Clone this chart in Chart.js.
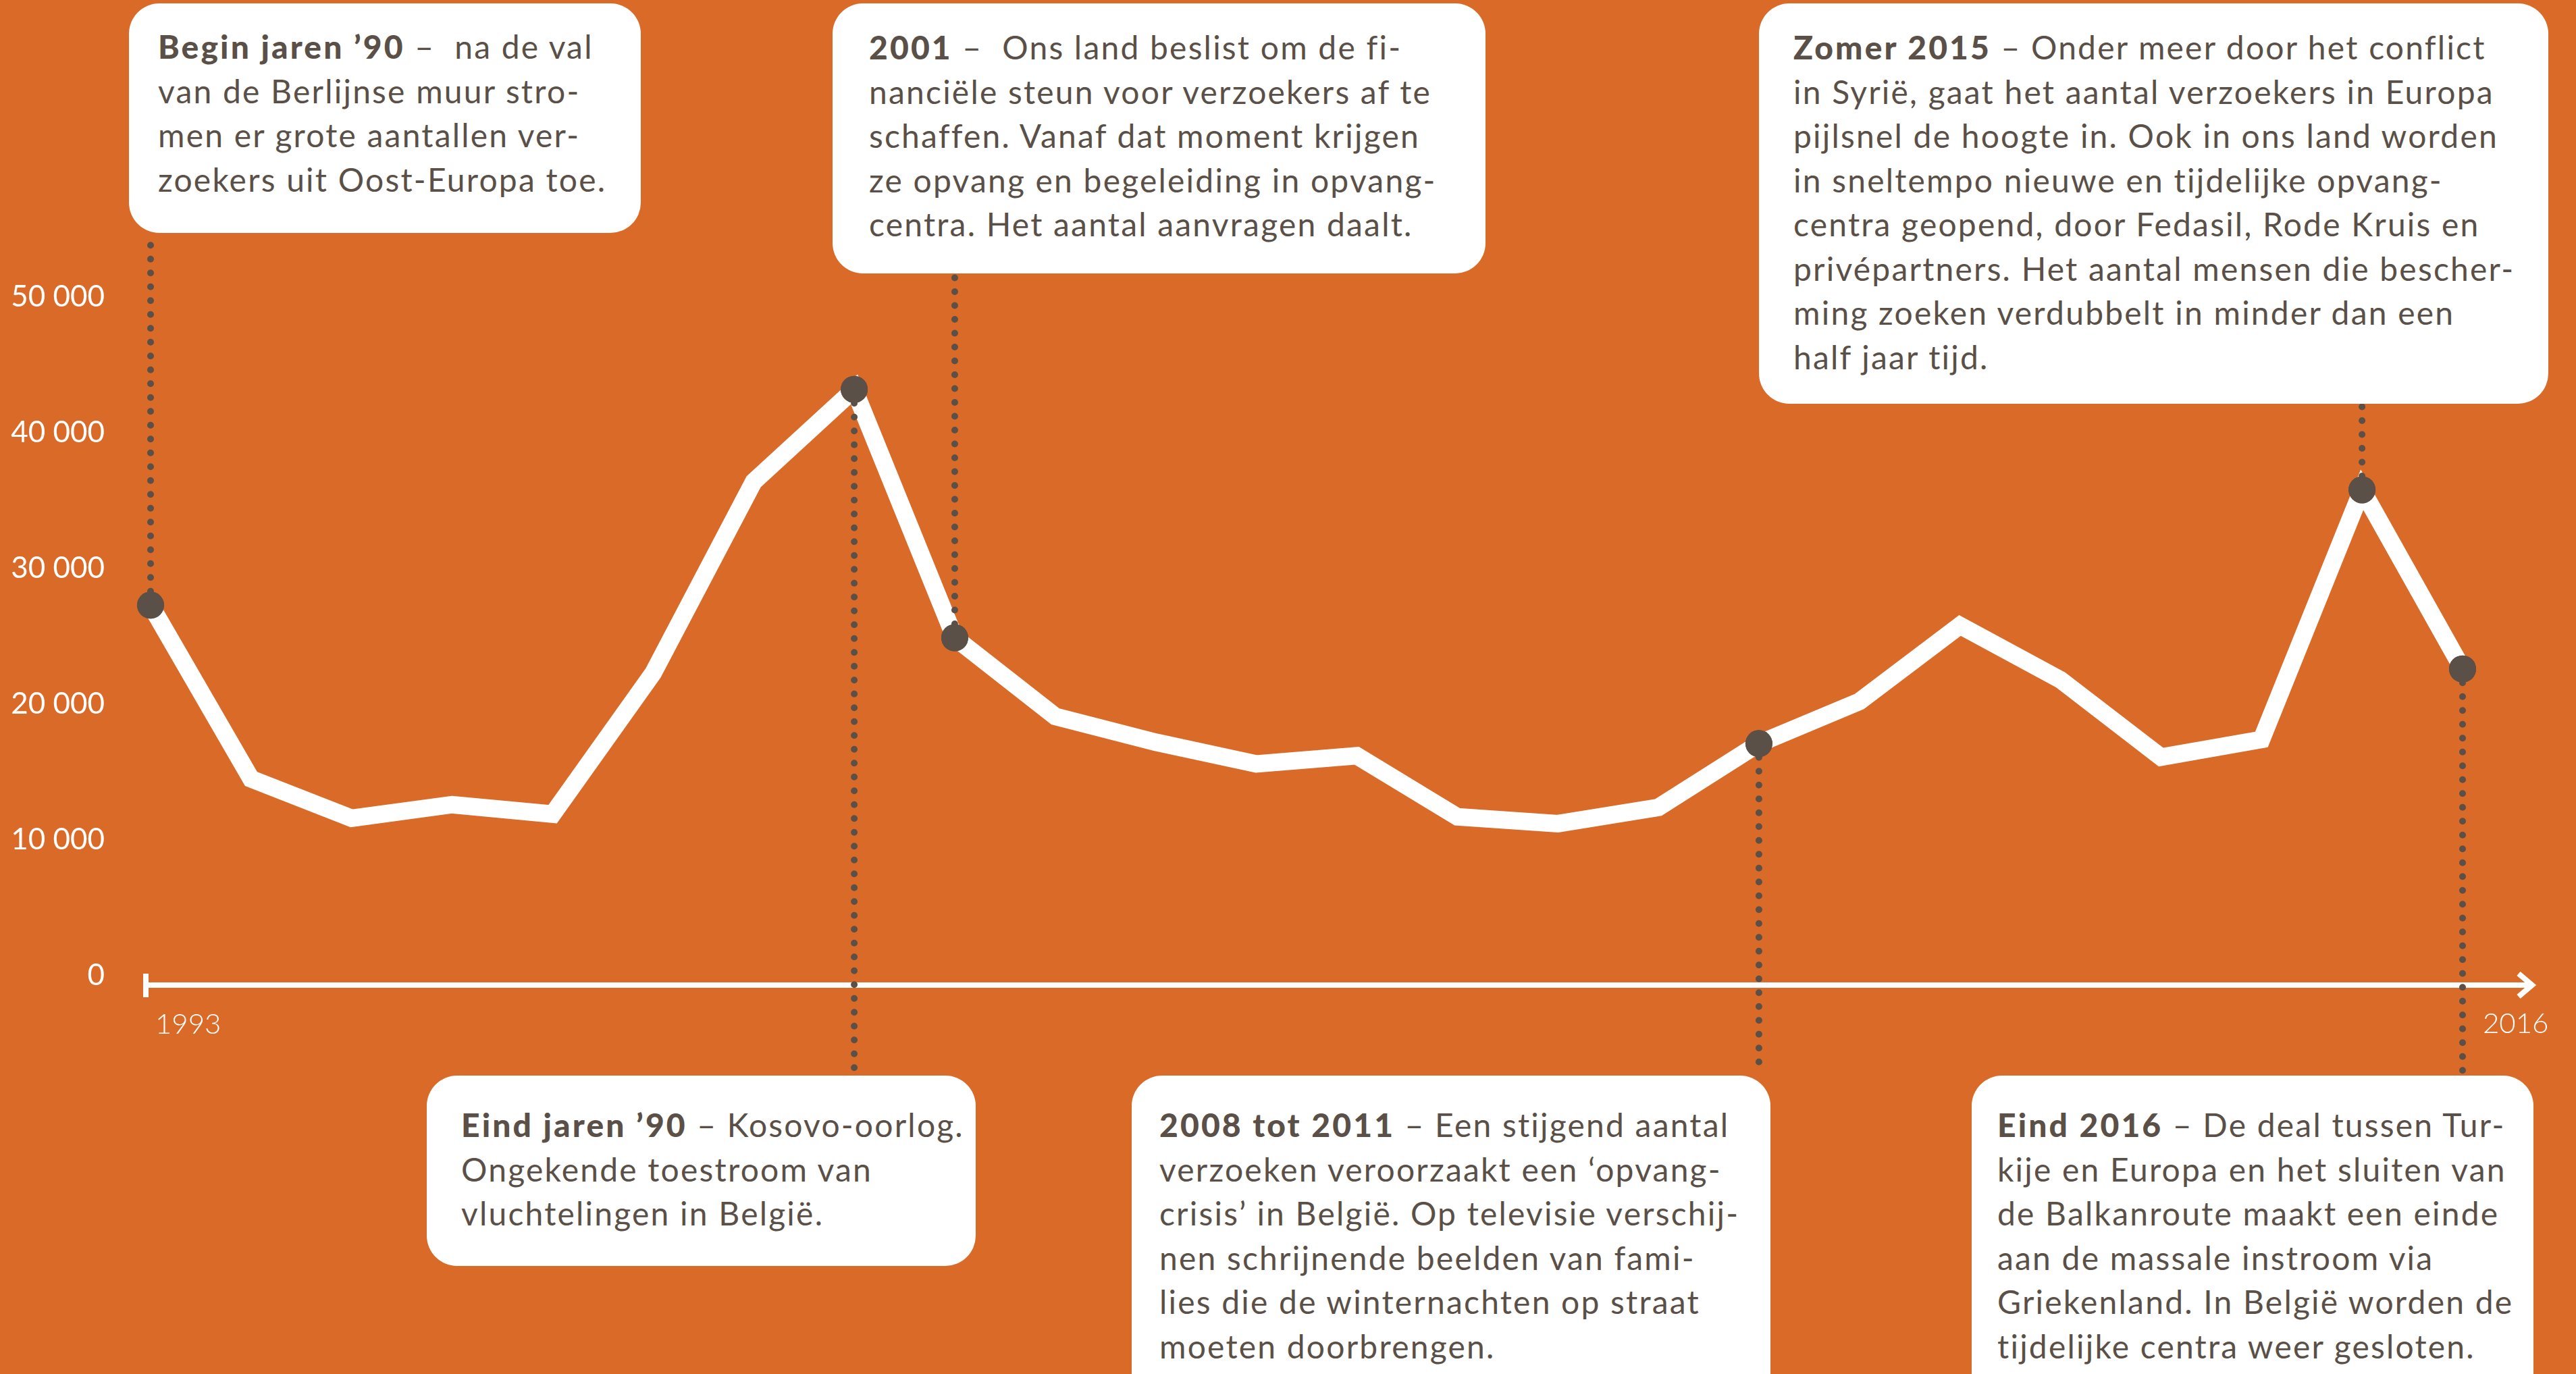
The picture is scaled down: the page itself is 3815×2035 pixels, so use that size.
<!DOCTYPE html>
<html>
<head>
<meta charset="utf-8">
<script src="https://cdn.jsdelivr.net/npm/chart.js@4.4.1/dist/chart.umd.min.js"></script>
<style>
  body { margin: 0; background: #DA6A27; width: 3815px; height: 2035px; overflow: hidden; position: relative; }
  #chart { position: absolute; left: 0; top: 0; }
  .note {
    position: absolute; background: #fff; border-radius: 45px; color: #5A5047;
    font-family: Lato, "Noto Sans", sans-serif; font-size: 48px; line-height: 65.5px;
    letter-spacing: 2.2px; white-space: nowrap; box-sizing: border-box;
  }
  .note b { font-weight: 900; letter-spacing: 3.1px; }
</style>
</head>
<body>
<canvas id="chart" width="3815" height="2035" style="width:3815px;height:2035px"></canvas>

<div class="note" style="left:191px;top:5px;width:758px;height:340px;padding:31px 0 0 43px">
  <b>Begin jaren ’90</b> –&nbsp; na de val<br>van de Berlijnse muur stro-<br>men er grote aantallen ver-<br>zoekers uit Oost-Europa toe.
</div>
<div class="note" style="left:1233px;top:5px;width:967px;height:400px;padding:32px 0 0 54px">
  <b>2001</b> –&nbsp; Ons land beslist om de fi-<br>nanciële steun voor verzoekers af te<br>schaffen. Vanaf dat moment krijgen<br>ze opvang en begeleiding in opvang-<br>centra. Het aantal aanvragen daalt.
</div>
<div class="note" style="left:2605px;top:5px;width:1169px;height:593px;padding:32px 0 0 51px">
  <b>Zomer 2015</b> – Onder meer door het conflict<br>in Syrië, gaat het aantal verzoekers in Europa<br>pijlsnel de hoogte in. Ook in ons land worden<br>in sneltempo nieuwe en tijdelijke opvang-<br>centra geopend, door Fedasil, Rode Kruis en<br>privépartners. Het aantal mensen die bescher-<br>ming zoeken verdubbelt in minder dan een<br>half jaar tijd.
</div>
<div class="note" style="left:632px;top:1593px;width:813px;height:282px;padding:40px 0 0 51px">
  <b>Eind jaren ’90</b> – Kosovo-oorlog.<br>Ongekende toestroom van<br>vluchtelingen in België.
</div>
<div class="note" style="left:1676px;top:1593px;width:946px;height:520px;padding:40px 0 0 41px">
  <b>2008 tot 2011</b> – Een stijgend aantal<br>verzoeken veroorzaakt een ‘opvang-<br>crisis’ in België. Op televisie verschij-<br>nen schrijnende beelden van fami-<br>lies die de winternachten op straat<br>moeten doorbrengen.
</div>
<div class="note" style="left:2920px;top:1593px;width:832px;height:520px;padding:40px 0 0 38px">
  <b>Eind 2016</b> – De deal tussen Tur-<br>kije en Europa en het sluiten van<br>de Balkanroute maakt een einde<br>aan de massale instroom via<br>Griekenland. In België worden de<br>tijdelijke centra weer gesloten.
</div>

<script>
// Asielaanvragen per jaar
const years = ['1993', '1994', '1995', '1996', '1997', '1998', '1999', '2000', '2001', '2002', '2003', '2004',
               '2005', '2006', '2007', '2008', '2009', '2010', '2011', '2012', '2013', '2014', '2015', '2016'];
const requests = [27300, 14500, 11600, 12600, 11900, 22300, 36400, 43200, 24900, 19100, 17200, 15600,
                  16200, 11700, 11200, 12400, 17100, 20200, 25800, 21800, 16100, 17400, 35800, 22600];
const yTicks = [0, 10000, 20000, 30000, 40000, 50000];
const markedYears = ['1993', '2000', '2001', '2009', '2015', '2016'];

// Waar de stippellijn van elk punt naartoe loopt (rand van het tekstvak)
const leaders = [
    { year: '1993', toY: 345 },
    { year: '2000', toY: 1593 },
    { year: '2001', toY: 405 },
    { year: '2009', toY: 1593 },
    { year: '2015', toY: 598 },
    { year: '2016', toY: 1593 }
];

const BROWN = '#5A5047';

// Tijdlijn-as met pijl en begin/eind jaartal
const timeAxis = {
    id: 'timeAxis',
    beforeDatasetsDraw(chart) {
        const { ctx } = chart;
        const xs = chart.scales.x, ys = chart.scales.y;
        const first = xs.getPixelForValue(0);
        const last = xs.getPixelForValue(years.length - 1);
        const x0 = first - 11, x1 = last + 105;
        const yy = ys.getPixelForValue(0) + 14;

        ctx.save();
        ctx.strokeStyle = '#fff';
        ctx.fillStyle = '#fff';
        ctx.lineWidth = 8;
        ctx.beginPath();
        ctx.moveTo(x0, yy);
        ctx.lineTo(x1 - 5, yy);
        ctx.stroke();
        ctx.fillRect(x0, yy - 17, 8, 35);

        ctx.lineJoin = 'miter';
        ctx.beginPath();
        ctx.moveTo(x1 - 22, yy - 17);
        ctx.lineTo(x1 - 2, yy);
        ctx.lineTo(x1 - 22, yy + 17);
        ctx.stroke();

        ctx.font = '300 42px Lato, sans-serif';
        ctx.textBaseline = 'alphabetic';
        ctx.textAlign = 'left';
        ctx.fillText(years[0], first + 7, yy + 72);
        ctx.fillText(years[years.length - 1], last + 30, yy + 71);
        ctx.restore();
    },
    afterDatasetsDraw(chart) {
        const { ctx } = chart;
        const xs = chart.scales.x, ys = chart.scales.y;
        ctx.save();
        ctx.strokeStyle = BROWN;
        ctx.lineWidth = 10;
        ctx.lineCap = 'round';
        ctx.setLineDash([0, 20.5]);
        leaders.forEach(l => {
            const i = years.indexOf(l.year);
            const x = xs.getPixelForValue(i);
            const y = ys.getPixelForValue(requests[i]);
            ctx.beginPath();
            ctx.moveTo(x, y);
            ctx.lineTo(x, l.toY);
            ctx.stroke();
        });
        ctx.restore();
        // punten opnieuw bovenop de stippellijn
        chart.getDatasetMeta(0).data.forEach((pt, i) => {
            if (!markedYears.includes(years[i])) return;
            ctx.save();
            ctx.fillStyle = BROWN;
            ctx.beginPath();
            ctx.arc(pt.x, pt.y, 20, 0, Math.PI * 2);
            ctx.fill();
            ctx.restore();
        });
    }
};

new Chart(document.getElementById('chart'), {
    type: 'line',
    data: {
        labels: years,
        datasets: [{
            data: requests,
            borderColor: '#fff',
            borderWidth: 26,
            borderJoinStyle: 'miter',
            tension: 0,
            fill: false,
            clip: false,
            pointRadius: ctx => markedYears.includes(years[ctx.dataIndex]) ? 20 : 0,
            pointHoverRadius: 0,
            pointBackgroundColor: BROWN,
            pointBorderWidth: 0
        }]
    },
    options: {
        responsive: false,
        animation: false,
        events: [],
        layout: { padding: { left: 0, right: 168, top: 440, bottom: 590 } },
        plugins: { legend: { display: false }, tooltip: { enabled: false } },
        scales: {
            x: { display: false, offset: false },
            y: {
                min: 0,
                max: 50000,
                afterFit: scale => { scale.width = 223; },
                afterBuildTicks: scale => { scale.ticks = yTicks.map(v => ({ value: v })); },
                grid: { display: false, drawTicks: false },
                border: { display: false },
                ticks: {
                    color: '#fff',
                    padding: 68,
                    font: { family: 'Lato', size: 44 },
                    callback: v => v === 0 ? '0' : (v / 1000) + ' 000'
                }
            }
        }
    },
    plugins: [timeAxis]
});
</script>
</body>
</html>
